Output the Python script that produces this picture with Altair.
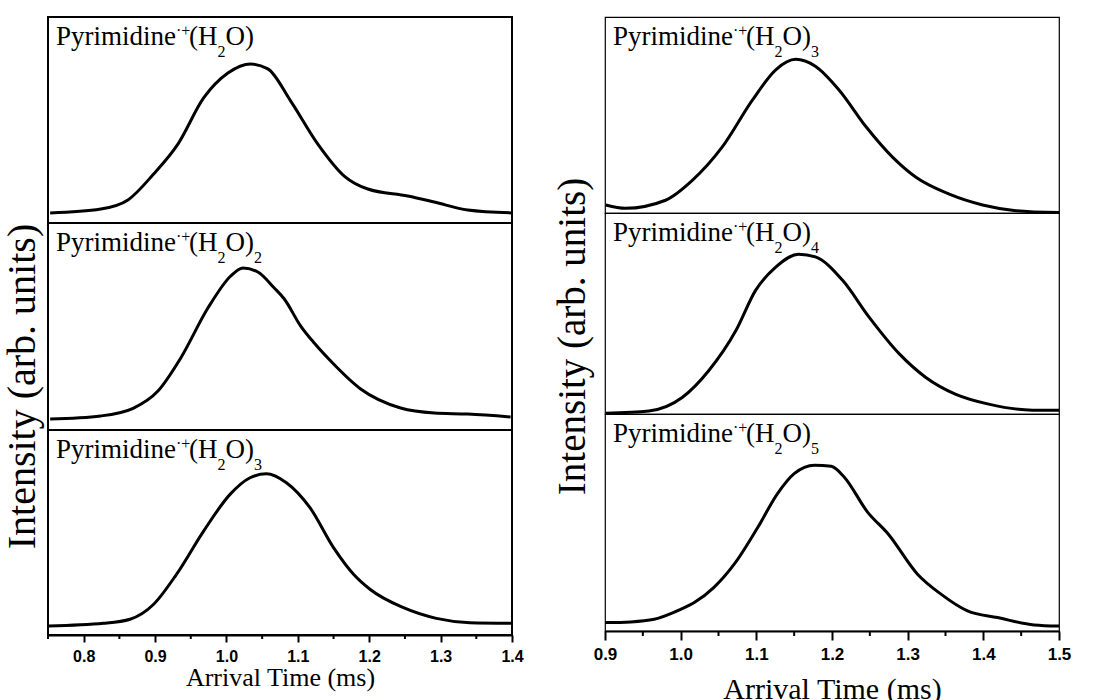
import altair as alt
import pandas as pd

# ---------------- data ----------------
# Left column (Arrival time 0.75-1.4 ms)
L1_t = [0.753, 0.824, 0.862, 0.898, 0.932, 0.968, 1.002, 1.034, 1.058, 1.090, 1.128, 1.165, 1.198, 1.254, 1.291, 1.338, 1.400]
L1_v = [0.049, 0.068, 0.112, 0.238, 0.383, 0.607, 0.728, 0.772, 0.748, 0.592, 0.383, 0.228, 0.165, 0.131, 0.102, 0.063, 0.049]

L2_t = [0.753, 0.824, 0.870, 0.904, 0.936, 0.974, 1.006, 1.023, 1.044, 1.067, 1.081, 1.104, 1.123, 1.146, 1.188, 1.244, 1.291, 1.338, 1.398]
L2_v = [0.053, 0.068, 0.106, 0.188, 0.348, 0.589, 0.744, 0.783, 0.763, 0.686, 0.633, 0.502, 0.420, 0.333, 0.198, 0.106, 0.082, 0.077, 0.063]

L3_t = [0.751, 0.828, 0.865, 0.898, 0.930, 0.968, 1.005, 1.033, 1.056, 1.084, 1.117, 1.150, 1.178, 1.201, 1.248, 1.294, 1.341, 1.400]
L3_v = [0.044, 0.057, 0.077, 0.150, 0.296, 0.507, 0.686, 0.767, 0.787, 0.743, 0.621, 0.426, 0.296, 0.223, 0.133, 0.081, 0.060, 0.057]

# Right column (Arrival time 0.9-1.5 ms)
R1_t = [0.901, 0.927, 0.980, 1.015, 1.055, 1.095, 1.126, 1.152, 1.178, 1.209, 1.245, 1.280, 1.311, 1.355, 1.399, 1.443, 1.500]
R1_v = [0.041, 0.024, 0.065, 0.165, 0.337, 0.577, 0.732, 0.784, 0.749, 0.629, 0.440, 0.285, 0.182, 0.096, 0.041, 0.012, 0.002]

R2_t = [0.901, 0.958, 1.002, 1.037, 1.073, 1.099, 1.126, 1.156, 1.178, 1.214, 1.249, 1.289, 1.324, 1.363, 1.407, 1.465, 1.500]
R2_v = [0.004, 0.015, 0.082, 0.215, 0.415, 0.615, 0.732, 0.795, 0.782, 0.665, 0.482, 0.299, 0.182, 0.099, 0.049, 0.019, 0.019]

R3_t = [0.900, 0.934, 0.965, 1.000, 1.018, 1.044, 1.071, 1.102, 1.128, 1.150, 1.177, 1.199, 1.216, 1.247, 1.274, 1.313, 1.344, 1.379, 1.419, 1.467, 1.500]
R3_v = [0.039, 0.042, 0.054, 0.100, 0.131, 0.201, 0.309, 0.478, 0.633, 0.725, 0.764, 0.759, 0.710, 0.548, 0.448, 0.262, 0.170, 0.093, 0.062, 0.028, 0.023]

left_ticks = [0.8, 0.9, 1.0, 1.1, 1.2, 1.3, 1.4]
left_minor = [0.75, 0.85, 0.95, 1.05, 1.15, 1.25, 1.35]
right_ticks = [0.9, 1.0, 1.1, 1.2, 1.3, 1.4, 1.5]
right_minor = [0.95, 1.05, 1.15, 1.25, 1.35, 1.45]

left_n = [1, 2, 3]
right_n = [3, 4, 5]

# ---------------- helpers ----------------
SERIF = "Liberation Serif"
SANS = "Liberation Sans"
W = {"P": 556, "y": 500, "r": 333, "i": 278, "m": 778, "d": 500, "n": 500, "e": 444,
     "(": 333, ")": 333, "H": 722, "O": 722, "2": 500, "3": 500, "4": 500, "5": 500,
     "·": 250, "+": 564}


def tw(s, fs):
    return sum(W[c] for c in s) * fs / 1000.0


one = pd.DataFrame({"a": [0]})


def label_layers(n, x0=8, y0=28):
    F, S = 27, 16
    pieces = [("Pyrimidine", F, 0), ("·+", S, -9), ("(H", F, 0), ("2", S, 12), ("O)", F, 0)]
    if n > 1:
        pieces.append((str(n), S, 12))
    layers = []
    x = x0
    for txt, fs, dy in pieces:
        layers.append(
            alt.Chart(one).mark_text(text=txt, x=x, y=y0 + dy, align="left", baseline="alphabetic",
                                     font=SERIF, fontSize=fs, color="black")
        )
        x += tw(txt, fs)
    return layers


minor_len = {"tL": 4, "tR": 5}


def panel(t, v, n, dom, width, height, field, xaxis=None, ytitle=None, minor=None, frame=2.0):
    df = pd.DataFrame({field: t, "v": v})
    xenc = alt.X(f"{field}:Q", scale=alt.Scale(domain=dom, nice=False, zero=False),
                 axis=xaxis if xaxis is not None else None)
    if ytitle is not None:
        yaxis = alt.Axis(labels=False, ticks=False, domain=False, grid=False, **ytitle)
    else:
        yaxis = None
    line = alt.Chart(df).mark_line(color="black", strokeWidth=3, interpolate="monotone").encode(
        x=xenc,
        y=alt.Y("v:Q", scale=alt.Scale(domain=[0, 1], nice=False, zero=False), axis=yaxis),
    )
    layers = [line]
    if minor is not None:
        mdf = pd.DataFrame({field: minor})
        layers.append(
            alt.Chart(mdf).mark_rule(color="black", strokeWidth=2).encode(
                x=alt.X(f"{field}:Q"), y=alt.value(height), y2=alt.value(height + minor_len[field])
            )
        )
    layers += label_layers(n)
    return alt.layer(*layers).properties(
        width=width, height=height,
        view=alt.ViewBackground(stroke="black", strokeWidth=frame, fill="white"),
    )


LW = 464
RW = 454

left_xaxis = alt.Axis(values=left_ticks, format=".1f", grid=False, labelFlush=False,
                      labelFont=SANS, labelFontWeight="bold", labelFontSize=16, labelColor="black",
                      labelPadding=6, tickSize=7, tickWidth=2, tickColor="black",
                      domainWidth=2, domainColor="black",
                      title="Arrival Time (ms)", titleFont=SERIF, titleFontSize=26,
                      titleFontWeight="normal", titleColor="black",
                      titleBaseline="alphabetic", titleY=50)
right_xaxis = alt.Axis(values=right_ticks, format=".1f", grid=False, labelFlush=False,
                       labelFont=SANS, labelFontWeight="bold", labelFontSize=17, labelColor="black",
                       labelPadding=6, tickSize=9, tickWidth=2, tickColor="black",
                       domainWidth=2, domainColor="black",
                       title="Arrival Time (ms)", titleFont=SERIF, titleFontSize=30,
                       titleFontWeight="normal", titleColor="black",
                       titleBaseline="alphabetic", titleY=67)

left_ytitle = dict(title="Intensity (arb. units)", titleFont=SERIF, titleFontSize=40,
                   titleFontWeight="normal", titleColor="black", titleBaseline="alphabetic",
                   titleAlign="center", titleAngle=270, titleX=-14, titleY=163)
right_ytitle = dict(title="Intensity (arb. units)", titleFont=SERIF, titleFontSize=39,
                    titleFontWeight="normal", titleColor="black", titleBaseline="alphabetic",
                    titleAlign="center", titleAngle=270, titleX=-21, titleY=123)

left_col = alt.vconcat(
    panel(L1_t, L1_v, left_n[0], [0.75, 1.4], LW, 206, "tL"),
    panel(L2_t, L2_v, left_n[1], [0.75, 1.4], LW, 207, "tL", ytitle=left_ytitle),
    panel(L3_t, L3_v, left_n[2], [0.75, 1.4], LW, 205, "tL", xaxis=left_xaxis, minor=left_minor),
    spacing=0, bounds="flush",
).resolve_scale(x="independent", y="independent")

right_col = alt.vconcat(
    panel(R1_t, R1_v, right_n[0], [0.9, 1.5], RW, 196, "tR", frame=1.2),
    panel(R2_t, R2_v, right_n[1], [0.9, 1.5], RW, 201, "tR", ytitle=right_ytitle, frame=1.2),
    panel(R3_t, R3_v, right_n[2], [0.9, 1.5], RW, 217, "tR", xaxis=right_xaxis, minor=right_minor, frame=1.2),
    spacing=0, bounds="flush",
).resolve_scale(x="independent", y="independent")

chart = alt.hconcat(left_col, right_col, spacing=27).resolve_scale(
    x="independent", y="independent"
).properties(
    padding={"left": 0, "top": 16, "right": 10, "bottom": 0},
    background="white",
)

chart.save("out.html", embed_options={"renderer": "svg", "actions": False})
